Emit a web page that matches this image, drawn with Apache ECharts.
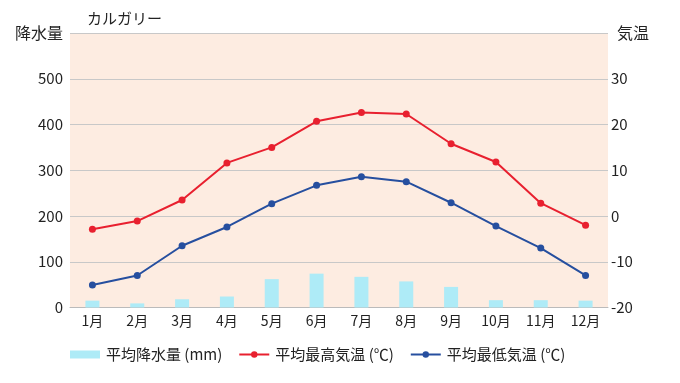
<!DOCTYPE html>
<html><head><meta charset="utf-8">
<script src="https://cdn.jsdelivr.net/npm/echarts@6/dist/echarts.min.js"></script>
<style>html,body{margin:0;padding:0;background:#fff}#c{width:680px;height:383px}</style>
</head><body><div id="c"></div>
<script>
const categories = ['1月','2月','3月','4月','5月','6月','7月','8月','9月','10月','11月','12月'];
const precipitation = [15, 9, 18, 24, 62, 74, 67, 57, 45, 16, 16, 15];
const maxTemp = [-2.9, -1.1, 3.5, 11.6, 15.0, 20.7, 22.6, 22.3, 15.8, 11.8, 2.8, -2.0];
const minTemp = [-15.1, -13.0, -6.5, -2.4, 2.7, 6.7, 8.6, 7.5, 2.9, -2.2, -7.0, -13.0];
const seriesNames = ['平均降水量 (mm)', '平均最高気温 (℃)', '平均最低気温 (℃)'];
const font = '"Noto Sans CJK JP", "Noto Sans", sans-serif';
const chart = echarts.init(document.getElementById('c'), null, {renderer: 'canvas'});
chart.setOption({
  animation: false,
  backgroundColor: '#fff',
  textStyle: {fontFamily: font},
  title: {text: 'カルガリー', left: 82, top: 6, textStyle: {fontSize: 15, fontWeight: 'normal', color: '#222', fontFamily: font}},
  grid: {left: 70, right: 72, top: 33, bottom: 75.5, show: true, backgroundColor: '#fdece1', borderWidth: 0},
  legend: {
    top: 347, left: 70, padding: 0, itemWidth: 30, itemHeight: 8, itemGap: 16,
    textStyle: {fontSize: 15, color: '#222', fontFamily: font, padding: [0, 0, 0, 1]},
    data: [
      {name: seriesNames[0], icon: 'rect'},
      {name: seriesNames[1]},
      {name: seriesNames[2]}
    ]
  },
  xAxis: {
    type: 'category', data: categories,
    axisLine: {lineStyle: {color: '#bbb'}}, axisTick: {show: false},
    axisLabel: {color: '#222', fontSize: 14, margin: 6, fontFamily: font}
  },
  yAxis: [
    {type: 'value', min: 0, max: 600, interval: 100,
     name: '降水量', nameLocation: 'end', nameGap: 0,
     nameTextStyle: {align: 'right', verticalAlign: 'middle', fontSize: 16, color: '#222', padding: [0, 7, 0, 0], fontFamily: font},
     axisLine: {show: false}, axisTick: {show: false},
     splitLine: {lineStyle: {color: '#c8c8c8', width: 1}},
     axisLabel: {color: '#222', fontSize: 15, margin: 7, fontFamily: font, formatter: v => v === 600 ? '' : String(v)}},
    {type: 'value', min: -20, max: 40, interval: 10,
     name: '気温', nameLocation: 'end', nameGap: 0,
     nameTextStyle: {align: 'left', verticalAlign: 'middle', fontSize: 16, color: '#222', padding: [0, 0, 0, 9], fontFamily: font},
     axisLine: {show: false}, axisTick: {show: false}, splitLine: {show: false},
     axisLabel: {color: '#222', fontSize: 15, margin: 3, fontFamily: font, formatter: v => v === 40 ? '' : String(v)}}
  ],
  series: [
    {name: seriesNames[0], type: 'bar', yAxisIndex: 0, data: precipitation, barWidth: 14,
     itemStyle: {color: '#aeebf7'}},
    {name: seriesNames[1], type: 'line', yAxisIndex: 1, data: maxTemp,
     symbol: 'circle', symbolSize: 7, lineStyle: {color: '#e8202f', width: 2}, itemStyle: {color: '#e8202f'}},
    {name: seriesNames[2], type: 'line', yAxisIndex: 1, data: minTemp,
     symbol: 'circle', symbolSize: 7, lineStyle: {color: '#264f9f', width: 2}, itemStyle: {color: '#264f9f'}}
  ]
});
</script></body></html>
